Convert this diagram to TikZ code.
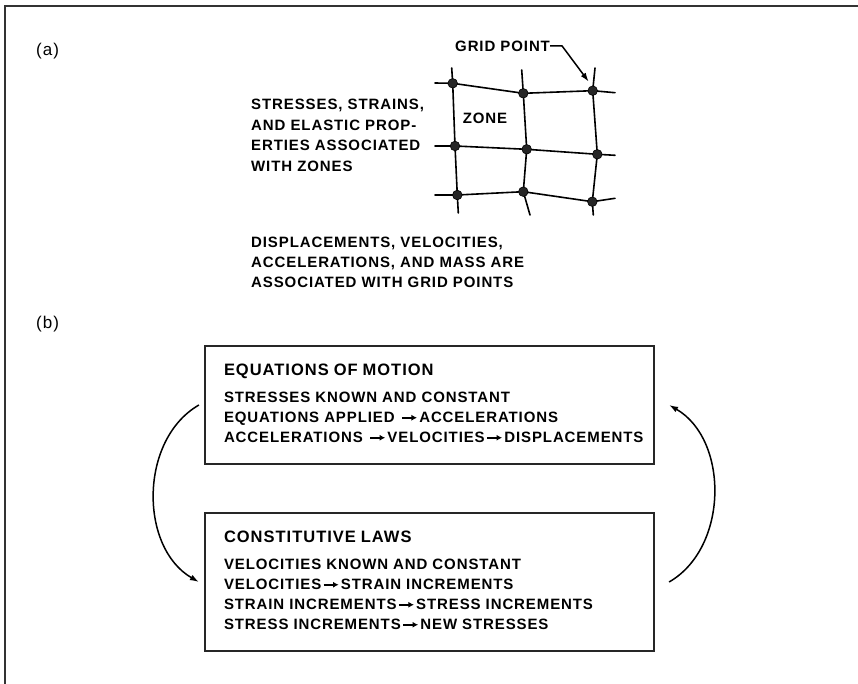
\documentclass[tikz,border=0pt]{standalone}
\usepackage{fontspec}
\setmainfont{Liberation Sans}[LetterSpace=6]
\usetikzlibrary{arrows.meta}
\newcommand{\tto}{\kern1.5pt\tikz[baseline=-.6ex]\draw[line width=1.6pt,-{Latex[length=5.5pt,width=6pt]}] (0pt,0pt) -- (15pt,0pt);\kern1.5pt}
\newcommand{\boxlines}[1]{\begin{tabular}{@{}l@{}}#1\end{tabular}}
\newcommand{\ttl}[1]{{\fontsize{16.5}{20}\selectfont #1}}
\tikzset{
  frame/.style ={draw=black!80, line width=2pt},
  lbl/.style   ={font=\bfseries\fontsize{15}{20.5}\selectfont, align=left, inner sep=0pt, anchor=west},
  stepbox/.style={draw=black!85, line width=2.2pt, text width=411pt, inner xsep=19pt, inner ysep=0pt,
                 align=left, font=\bfseries\fontsize{15}{20}\selectfont},
  grd/.style   ={line width=1.6pt, line cap=round},
  gdot/.style  ={fill=black!85, draw=black, line width=.6pt},
  cyc/.style   ={line width=1.5pt, -{Latex[length=9pt,width=6pt]}},
  lead/.style  ={line width=1.5pt, -{Latex[length=9pt,width=6pt]}},
}
\begin{document}
\begin{tikzpicture}[x=1pt,y=1pt]
  \useasboundingbox (0,0) rectangle (858,-684);
  \draw[frame] (5,-684) -- (5,-6) -- (858,-6);
  % (a) grid
  \node[lbl,font=\fontsize{17}{20}\selectfont] (la) at (36,-51) {(a)};
  \coordinate (p11) at (452.7,-83.3);  \coordinate (p12) at (523.3,-93.3);  \coordinate (p13) at (592.7,-90.7);
  \coordinate (p21) at (455,-146);     \coordinate (p22) at (526.7,-149.3); \coordinate (p23) at (597.3,-154.3);
  \coordinate (p31) at (457.3,-195);   \coordinate (p32) at (523.3,-191.7); \coordinate (p33) at (592.3,-201.7);
  \draw[grd] (435,-83) -- (p11) -- (p12) -- (p13) -- (615,-92.7);
  \draw[grd] (435,-146) -- (p21) -- (p22) -- (p23) -- (615,-155.3);
  \draw[grd] (435,-195) -- (p31) -- (p32) -- (p33) -- (615,-198.3);
  \draw[grd] (451.7,-68) -- (p11) -- (p21) -- (p31) -- (458.3,-213);
  \draw[grd] (521.7,-70) -- (p12) -- (p22) -- (p32) -- (530,-215);
  \draw[grd] (595,-68) -- (p13) -- (p23) -- (p33) -- (593.3,-215);
  \foreach \p in {p11,p12,p13,p21,p22,p23,p31,p32,p33}
    \fill[gdot] (\p) circle (4.8);
  \node[lbl,anchor=center] (zone) at (485,-118) {ZONE};
  \node[lbl] (gp) at (455,-46) {GRID POINT};
  \draw[lead] (gp.east) -- ++(12,0) -- ([shift={(-4,9)}]p13);
  \node[lbl] (zl) at (251,-135.5) {STRESSES, STRAINS,\\AND ELASTIC PROP-\\ERTIES ASSOCIATED\\WITH ZONES};
  \node[lbl,font=\bfseries\fontsize{15}{20}\selectfont] (gl) at (251,-262)
    {DISPLACEMENTS, VELOCITIES,\\ACCELERATIONS, AND MASS ARE\\ASSOCIATED WITH GRID POINTS};
  % (b) cycle
  \node[lbl,font=\fontsize{17}{20}\selectfont] (lb) at (36,-324) {(b)};
  \node[stepbox,minimum height=118pt] (eom) at (429.5,-405)
    {\boxlines{\ttl{EQUATIONS OF MOTION}\\[7pt]
     STRESSES KNOWN AND CONSTANT\\
     EQUATIONS APPLIED \tto ACCELERATIONS\\
     ACCELERATIONS \tto VELOCITIES\tto DISPLACEMENTS}};
  \node[stepbox,minimum height=138pt] (law) at (429.5,-582)
    {\boxlines{\ttl{CONSTITUTIVE LAWS}\\[7pt]
     VELOCITIES KNOWN AND CONSTANT\\
     VELOCITIES\tto STRAIN INCREMENTS\\
     STRAIN INCREMENTS\tto STRESS INCREMENTS\\
     STRESS INCREMENTS\tto NEW STRESSES}};
  \draw[cyc] ([xshift=-5]eom.west) to[bend right=60] ([xshift=-5]law.west);
  \draw[cyc] ([xshift=14]law.east) to[bend right=60] ([xshift=14]eom.east);
\end{tikzpicture}
\end{document}
